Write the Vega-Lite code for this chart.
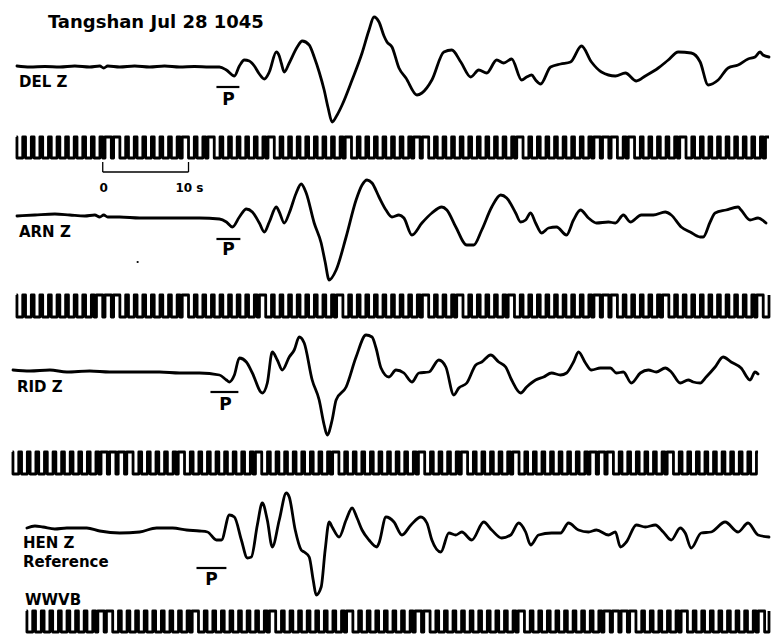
{"$schema":"https://vega.github.io/schema/vega-lite/v6.json","width":771,"height":635,"autosize":{"type":"fit","contains":"padding"},"padding":0,"background":"white","config":{"view":{"stroke":null}},
"datasets":{
"del":[{"x":17,"y":66},{"x":30,"y":67},{"x":45,"y":66.5},{"x":60,"y":67},{"x":75,"y":66},{"x":90,"y":67},{"x":100,"y":66},{"x":104,"y":68},{"x":108,"y":66},{"x":120,"y":67},{"x":135,"y":66},{"x":150,"y":67},{"x":165,"y":66},{"x":180,"y":67},{"x":195,"y":66.5},{"x":210,"y":67},{"x":220,"y":67},{"x":227,"y":70},{"x":235,"y":76},{"x":240,"y":66},{"x":245,"y":60},{"x":250,"y":61},{"x":255,"y":66},{"x":260,"y":74},{"x":265,"y":79},{"x":270,"y":72},{"x":277,"y":52},{"x":280,"y":56},{"x":282,"y":63},{"x":285,"y":72},{"x":290,"y":63},{"x":298,"y":47},{"x":303,"y":41},{"x":310,"y":45},{"x":315,"y":57},{"x":320,"y":72},{"x":325,"y":90},{"x":329,"y":108},{"x":333,"y":122},{"x":338,"y":115},{"x":343,"y":105},{"x":353,"y":80},{"x":363,"y":53},{"x":370,"y":30},{"x":375,"y":17},{"x":380,"y":22},{"x":385,"y":36},{"x":388,"y":42},{"x":393,"y":47},{"x":400,"y":68},{"x":407,"y":78},{"x":418,"y":95},{"x":423,"y":93},{"x":433,"y":80},{"x":445,"y":52},{"x":453,"y":50},{"x":462,"y":62},{"x":472,"y":77},{"x":480,"y":70},{"x":488,"y":73},{"x":498,"y":60},{"x":505,"y":63},{"x":513,"y":59},{"x":523,"y":80},{"x":528,"y":77},{"x":533,"y":75},{"x":537,"y":80},{"x":542,"y":84},{"x":552,"y":67},{"x":562,"y":64},{"x":572,"y":62},{"x":583,"y":46},{"x":593,"y":62},{"x":603,"y":72},{"x":617,"y":76},{"x":627,"y":73},{"x":638,"y":81},{"x":647,"y":76},{"x":660,"y":68},{"x":670,"y":60},{"x":680,"y":52},{"x":693,"y":53},{"x":702,"y":62},{"x":710,"y":85},{"x":720,"y":80},{"x":730,"y":68},{"x":740,"y":65},{"x":750,"y":59},{"x":757,"y":57},{"x":762,"y":52},{"x":765,"y":55},{"x":771,"y":57}],
"arn":[{"x":17,"y":216},{"x":35,"y":215},{"x":55,"y":214},{"x":70,"y":215},{"x":85,"y":216},{"x":95,"y":215},{"x":100,"y":217},{"x":104,"y":215},{"x":108,"y":217},{"x":120,"y":217},{"x":140,"y":218},{"x":160,"y":218},{"x":180,"y":218},{"x":200,"y":218},{"x":220,"y":219},{"x":227,"y":222},{"x":233,"y":227},{"x":240,"y":217},{"x":247,"y":209},{"x":253,"y":212},{"x":260,"y":223},{"x":265,"y":232},{"x":270,"y":222},{"x":277,"y":207},{"x":280,"y":212},{"x":285,"y":223},{"x":290,"y":213},{"x":297,"y":193},{"x":302,"y":184},{"x":307,"y":193},{"x":315,"y":223},{"x":322,"y":243},{"x":326,"y":262},{"x":330,"y":280},{"x":337,"y":270},{"x":347,"y":237},{"x":357,"y":200},{"x":363,"y":185},{"x":368,"y":180},{"x":373,"y":183},{"x":380,"y":197},{"x":387,"y":210},{"x":393,"y":217},{"x":400,"y":215},{"x":405,"y":218},{"x":413,"y":235},{"x":423,"y":223},{"x":433,"y":213},{"x":443,"y":207},{"x":448,"y":210},{"x":457,"y":227},{"x":468,"y":245},{"x":475,"y":245},{"x":483,"y":230},{"x":493,"y":207},{"x":502,"y":195},{"x":508,"y":198},{"x":517,"y":213},{"x":522,"y":222},{"x":527,"y":220},{"x":532,"y":213},{"x":537,"y":223},{"x":543,"y":233},{"x":550,"y":228},{"x":558,"y":227},{"x":568,"y":235},{"x":575,"y":220},{"x":582,"y":210},{"x":590,"y":218},{"x":598,"y":223},{"x":610,"y":222},{"x":617,"y":223},{"x":625,"y":215},{"x":632,"y":222},{"x":643,"y":215},{"x":655,"y":215},{"x":667,"y":212},{"x":673,"y":215},{"x":683,"y":227},{"x":692,"y":232},{"x":702,"y":237},{"x":705,"y":237},{"x":712,"y":222},{"x":717,"y":213},{"x":728,"y":210},{"x":740,"y":207},{"x":743,"y":210},{"x":752,"y":220},{"x":760,"y":218},{"x":768,"y":223}],
"rid":[{"x":13,"y":370},{"x":30,"y":371},{"x":50,"y":370},{"x":67,"y":372},{"x":90,"y":371},{"x":110,"y":372},{"x":133,"y":372},{"x":160,"y":372},{"x":180,"y":373},{"x":200,"y":373},{"x":220,"y":375},{"x":227,"y":380},{"x":230,"y":382},{"x":235,"y":375},{"x":240,"y":358},{"x":247,"y":362},{"x":253,"y":373},{"x":263,"y":393},{"x":268,"y":383},{"x":273,"y":352},{"x":278,"y":360},{"x":283,"y":370},{"x":290,"y":357},{"x":295,"y":350},{"x":300,"y":337},{"x":305,"y":343},{"x":313,"y":380},{"x":320,"y":400},{"x":325,"y":425},{"x":328,"y":435},{"x":333,"y":420},{"x":337,"y":400},{"x":347,"y":387},{"x":357,"y":357},{"x":367,"y":335},{"x":373,"y":337},{"x":377,"y":348},{"x":382,"y":368},{"x":390,"y":377},{"x":397,"y":370},{"x":405,"y":373},{"x":413,"y":382},{"x":420,"y":373},{"x":430,"y":372},{"x":440,"y":360},{"x":447,"y":367},{"x":455,"y":395},{"x":460,"y":388},{"x":468,"y":383},{"x":477,"y":365},{"x":483,"y":362},{"x":492,"y":355},{"x":500,"y":362},{"x":507,"y":367},{"x":513,"y":380},{"x":522,"y":393},{"x":528,"y":387},{"x":537,"y":380},{"x":545,"y":377},{"x":553,"y":373},{"x":562,"y":375},{"x":568,"y":373},{"x":575,"y":362},{"x":580,"y":352},{"x":587,"y":363},{"x":593,"y":370},{"x":602,"y":368},{"x":612,"y":368},{"x":618,"y":373},{"x":625,"y":372},{"x":633,"y":383},{"x":642,"y":373},{"x":650,"y":370},{"x":658,"y":372},{"x":667,"y":368},{"x":673,"y":372},{"x":682,"y":383},{"x":690,"y":380},{"x":695,"y":382},{"x":702,"y":383},{"x":708,"y":377},{"x":717,"y":367},{"x":725,"y":357},{"x":733,"y":362},{"x":743,"y":368},{"x":752,"y":380},{"x":757,"y":372},{"x":760,"y":374}],
"hen":[{"x":27,"y":528},{"x":35,"y":526},{"x":43,"y":527},{"x":55,"y":529},{"x":67,"y":528},{"x":87,"y":528},{"x":100,"y":531},{"x":120,"y":533},{"x":140,"y":532},{"x":157,"y":528},{"x":173,"y":528},{"x":187,"y":530},{"x":200,"y":531},{"x":208,"y":532},{"x":217,"y":540},{"x":222,"y":540},{"x":230,"y":515},{"x":235,"y":517},{"x":242,"y":540},{"x":248,"y":558},{"x":252,"y":557},{"x":258,"y":525},{"x":263,"y":503},{"x":268,"y":520},{"x":273,"y":547},{"x":280,"y":520},{"x":287,"y":493},{"x":290,"y":497},{"x":296,"y":530},{"x":302,"y":550},{"x":305,"y":552},{"x":310,"y":557},{"x":314,"y":580},{"x":317,"y":595},{"x":322,"y":587},{"x":326,"y":550},{"x":330,"y":522},{"x":333,"y":527},{"x":340,"y":537},{"x":347,"y":520},{"x":353,"y":508},{"x":358,"y":518},{"x":363,"y":530},{"x":370,"y":540},{"x":378,"y":547},{"x":380,"y":543},{"x":387,"y":517},{"x":395,"y":522},{"x":403,"y":535},{"x":412,"y":525},{"x":422,"y":517},{"x":428,"y":523},{"x":433,"y":540},{"x":442,"y":552},{"x":450,"y":533},{"x":457,"y":535},{"x":463,"y":532},{"x":473,"y":540},{"x":485,"y":522},{"x":493,"y":530},{"x":503,"y":538},{"x":512,"y":535},{"x":520,"y":523},{"x":527,"y":532},{"x":532,"y":545},{"x":540,"y":535},{"x":553,"y":533},{"x":562,"y":533},{"x":570,"y":523},{"x":580,"y":530},{"x":590,"y":532},{"x":598,"y":530},{"x":610,"y":535},{"x":617,"y":532},{"x":622,"y":547},{"x":628,"y":542},{"x":638,"y":525},{"x":647,"y":527},{"x":657,"y":525},{"x":665,"y":532},{"x":673,"y":540},{"x":682,"y":528},{"x":687,"y":533},{"x":693,"y":548},{"x":703,"y":533},{"x":713,"y":532},{"x":727,"y":522},{"x":740,"y":532},{"x":750,"y":523},{"x":760,"y":535},{"x":771,"y":537}],
"c1":[{"x":16.5,"y":137},{"x":17,"y":158},{"x":22.8,"y":137},{"x":25.6,"y":158},{"x":31.4,"y":137},{"x":34.2,"y":158},{"x":40,"y":137},{"x":42.8,"y":158},{"x":48.6,"y":137},{"x":51.4,"y":158},{"x":57.2,"y":137},{"x":60,"y":158},{"x":65.8,"y":137},{"x":68.6,"y":158},{"x":74.4,"y":137},{"x":77.2,"y":158},{"x":83,"y":137},{"x":85.8,"y":158},{"x":91.6,"y":137},{"x":94.4,"y":158},{"x":100.2,"y":137},{"x":103,"y":158},{"x":105.3,"y":137},{"x":111.6,"y":158},{"x":113.9,"y":137},{"x":120.2,"y":158},{"x":126,"y":137},{"x":128.8,"y":158},{"x":134.6,"y":137},{"x":137.4,"y":158},{"x":143.2,"y":137},{"x":146,"y":158},{"x":151.8,"y":137},{"x":154.6,"y":158},{"x":160.4,"y":137},{"x":163.2,"y":158},{"x":169,"y":137},{"x":171.8,"y":158},{"x":177.6,"y":137},{"x":180.4,"y":158},{"x":182.7,"y":137},{"x":189,"y":158},{"x":194.8,"y":137},{"x":197.6,"y":158},{"x":203.4,"y":137},{"x":206.2,"y":158},{"x":208.5,"y":137},{"x":214.8,"y":158},{"x":220.6,"y":137},{"x":223.4,"y":158},{"x":229.2,"y":137},{"x":232,"y":158},{"x":237.8,"y":137},{"x":240.6,"y":158},{"x":246.4,"y":137},{"x":249.2,"y":158},{"x":255,"y":137},{"x":257.8,"y":158},{"x":263.6,"y":137},{"x":266.4,"y":158},{"x":268.7,"y":137},{"x":275,"y":158},{"x":280.8,"y":137},{"x":283.6,"y":158},{"x":289.4,"y":137},{"x":292.2,"y":158},{"x":298,"y":137},{"x":300.8,"y":158},{"x":306.6,"y":137},{"x":309.4,"y":158},{"x":315.2,"y":137},{"x":318,"y":158},{"x":323.8,"y":137},{"x":326.6,"y":158},{"x":332.4,"y":137},{"x":335.2,"y":158},{"x":341,"y":137},{"x":343.8,"y":158},{"x":346.1,"y":137},{"x":352.4,"y":158},{"x":358.2,"y":137},{"x":361,"y":158},{"x":366.8,"y":137},{"x":369.6,"y":158},{"x":375.4,"y":137},{"x":378.2,"y":158},{"x":384,"y":137},{"x":386.8,"y":158},{"x":392.6,"y":137},{"x":395.4,"y":158},{"x":401.2,"y":137},{"x":404,"y":158},{"x":409.8,"y":137},{"x":412.6,"y":158},{"x":414.9,"y":137},{"x":421.2,"y":158},{"x":423.5,"y":137},{"x":429.8,"y":158},{"x":435.6,"y":137},{"x":438.4,"y":158},{"x":444.2,"y":137},{"x":447,"y":158},{"x":452.8,"y":137},{"x":455.6,"y":158},{"x":461.4,"y":137},{"x":464.2,"y":158},{"x":470,"y":137},{"x":472.8,"y":158},{"x":478.6,"y":137},{"x":481.4,"y":158},{"x":487.2,"y":137},{"x":490,"y":158},{"x":495.8,"y":137},{"x":498.6,"y":158},{"x":504.4,"y":137},{"x":507.2,"y":158},{"x":513,"y":137},{"x":515.8,"y":158},{"x":518.1,"y":137},{"x":524.4,"y":158},{"x":530.2,"y":137},{"x":533,"y":158},{"x":538.8,"y":137},{"x":541.6,"y":158},{"x":547.4,"y":137},{"x":550.2,"y":158},{"x":556,"y":137},{"x":558.8,"y":158},{"x":564.6,"y":137},{"x":567.4,"y":158},{"x":573.2,"y":137},{"x":576,"y":158},{"x":581.8,"y":137},{"x":584.6,"y":158},{"x":590.4,"y":137},{"x":593.2,"y":158},{"x":595.5,"y":137},{"x":601.8,"y":158},{"x":604.1,"y":137},{"x":610.4,"y":158},{"x":612.7,"y":137},{"x":619,"y":158},{"x":624.8,"y":137},{"x":627.6,"y":158},{"x":629.9,"y":137},{"x":636.2,"y":158},{"x":642,"y":137},{"x":644.8,"y":158},{"x":650.6,"y":137},{"x":653.4,"y":158},{"x":659.2,"y":137},{"x":662,"y":158},{"x":667.8,"y":137},{"x":670.6,"y":158},{"x":676.4,"y":137},{"x":679.2,"y":158},{"x":681.5,"y":137},{"x":687.8,"y":158},{"x":693.6,"y":137},{"x":696.4,"y":158},{"x":702.2,"y":137},{"x":705,"y":158},{"x":710.8,"y":137},{"x":713.6,"y":158},{"x":719.4,"y":137},{"x":722.2,"y":158},{"x":728,"y":137},{"x":730.8,"y":158},{"x":736.6,"y":137},{"x":739.4,"y":158},{"x":745.2,"y":137},{"x":748,"y":158},{"x":753.8,"y":137},{"x":756.6,"y":158},{"x":762.4,"y":137},{"x":765.2,"y":158},{"x":767.5,"y":137},{"x":771,"y":137}],
"c2":[{"x":16.5,"y":295},{"x":17,"y":317},{"x":22.8,"y":295},{"x":25.6,"y":317},{"x":31.4,"y":295},{"x":34.2,"y":317},{"x":40,"y":295},{"x":42.8,"y":317},{"x":48.6,"y":295},{"x":51.4,"y":317},{"x":57.2,"y":295},{"x":60,"y":317},{"x":65.8,"y":295},{"x":68.6,"y":317},{"x":74.4,"y":295},{"x":77.2,"y":317},{"x":83,"y":295},{"x":85.8,"y":317},{"x":91.6,"y":295},{"x":94.4,"y":317},{"x":96.7,"y":295},{"x":103,"y":317},{"x":105.3,"y":295},{"x":111.6,"y":317},{"x":113.9,"y":295},{"x":120.2,"y":317},{"x":126,"y":295},{"x":128.8,"y":317},{"x":134.6,"y":295},{"x":137.4,"y":317},{"x":143.2,"y":295},{"x":146,"y":317},{"x":151.8,"y":295},{"x":154.6,"y":317},{"x":160.4,"y":295},{"x":163.2,"y":317},{"x":169,"y":295},{"x":171.8,"y":317},{"x":177.6,"y":295},{"x":180.4,"y":317},{"x":182.7,"y":295},{"x":189,"y":317},{"x":194.8,"y":295},{"x":197.6,"y":317},{"x":203.4,"y":295},{"x":206.2,"y":317},{"x":212,"y":295},{"x":214.8,"y":317},{"x":220.6,"y":295},{"x":223.4,"y":317},{"x":229.2,"y":295},{"x":232,"y":317},{"x":237.8,"y":295},{"x":240.6,"y":317},{"x":246.4,"y":295},{"x":249.2,"y":317},{"x":255,"y":295},{"x":257.8,"y":317},{"x":260.1,"y":295},{"x":266.4,"y":317},{"x":272.2,"y":295},{"x":275,"y":317},{"x":280.8,"y":295},{"x":283.6,"y":317},{"x":289.4,"y":295},{"x":292.2,"y":317},{"x":298,"y":295},{"x":300.8,"y":317},{"x":306.6,"y":295},{"x":309.4,"y":317},{"x":315.2,"y":295},{"x":318,"y":317},{"x":323.8,"y":295},{"x":326.6,"y":317},{"x":332.4,"y":295},{"x":335.2,"y":317},{"x":337.5,"y":295},{"x":343.8,"y":317},{"x":349.6,"y":295},{"x":352.4,"y":317},{"x":358.2,"y":295},{"x":361,"y":317},{"x":366.8,"y":295},{"x":369.6,"y":317},{"x":375.4,"y":295},{"x":378.2,"y":317},{"x":384,"y":295},{"x":386.8,"y":317},{"x":392.6,"y":295},{"x":395.4,"y":317},{"x":401.2,"y":295},{"x":404,"y":317},{"x":409.8,"y":295},{"x":412.6,"y":317},{"x":418.4,"y":295},{"x":421.2,"y":317},{"x":423.5,"y":295},{"x":429.8,"y":317},{"x":435.6,"y":295},{"x":438.4,"y":317},{"x":444.2,"y":295},{"x":447,"y":317},{"x":452.8,"y":295},{"x":455.6,"y":317},{"x":457.9,"y":295},{"x":464.2,"y":317},{"x":470,"y":295},{"x":472.8,"y":317},{"x":478.6,"y":295},{"x":481.4,"y":317},{"x":487.2,"y":295},{"x":490,"y":317},{"x":495.8,"y":295},{"x":498.6,"y":317},{"x":504.4,"y":295},{"x":507.2,"y":317},{"x":509.5,"y":295},{"x":515.8,"y":317},{"x":521.6,"y":295},{"x":524.4,"y":317},{"x":530.2,"y":295},{"x":533,"y":317},{"x":538.8,"y":295},{"x":541.6,"y":317},{"x":547.4,"y":295},{"x":550.2,"y":317},{"x":556,"y":295},{"x":558.8,"y":317},{"x":564.6,"y":295},{"x":567.4,"y":317},{"x":573.2,"y":295},{"x":576,"y":317},{"x":581.8,"y":295},{"x":584.6,"y":317},{"x":590.4,"y":295},{"x":593.2,"y":317},{"x":595.5,"y":295},{"x":601.8,"y":317},{"x":604.1,"y":295},{"x":610.4,"y":317},{"x":612.7,"y":295},{"x":619,"y":317},{"x":624.8,"y":295},{"x":627.6,"y":317},{"x":633.4,"y":295},{"x":636.2,"y":317},{"x":642,"y":295},{"x":644.8,"y":317},{"x":650.6,"y":295},{"x":653.4,"y":317},{"x":659.2,"y":295},{"x":662,"y":317},{"x":664.3,"y":295},{"x":670.6,"y":317},{"x":676.4,"y":295},{"x":679.2,"y":317},{"x":685,"y":295},{"x":687.8,"y":317},{"x":693.6,"y":295},{"x":696.4,"y":317},{"x":702.2,"y":295},{"x":705,"y":317},{"x":710.8,"y":295},{"x":713.6,"y":317},{"x":719.4,"y":295},{"x":722.2,"y":317},{"x":728,"y":295},{"x":730.8,"y":317},{"x":736.6,"y":295},{"x":739.4,"y":317},{"x":745.2,"y":295},{"x":748,"y":317},{"x":753.8,"y":295},{"x":756.6,"y":317},{"x":758.9,"y":295},{"x":765.2,"y":317},{"x":771,"y":295}],
"c3":[{"x":12.5,"y":452},{"x":13,"y":474},{"x":18.8,"y":452},{"x":21.6,"y":474},{"x":27.4,"y":452},{"x":30.2,"y":474},{"x":36,"y":452},{"x":38.8,"y":474},{"x":44.6,"y":452},{"x":47.4,"y":474},{"x":53.2,"y":452},{"x":56,"y":474},{"x":61.8,"y":452},{"x":64.6,"y":474},{"x":70.4,"y":452},{"x":73.2,"y":474},{"x":79,"y":452},{"x":81.8,"y":474},{"x":87.6,"y":452},{"x":90.4,"y":474},{"x":96.2,"y":452},{"x":99,"y":474},{"x":101.3,"y":452},{"x":107.6,"y":474},{"x":109.9,"y":452},{"x":116.2,"y":474},{"x":118.5,"y":452},{"x":124.8,"y":474},{"x":127.1,"y":452},{"x":133.4,"y":474},{"x":139.2,"y":452},{"x":142,"y":474},{"x":147.8,"y":452},{"x":150.6,"y":474},{"x":156.4,"y":452},{"x":159.2,"y":474},{"x":165,"y":452},{"x":167.8,"y":474},{"x":173.6,"y":452},{"x":176.4,"y":474},{"x":178.7,"y":452},{"x":185,"y":474},{"x":190.8,"y":452},{"x":193.6,"y":474},{"x":199.4,"y":452},{"x":202.2,"y":474},{"x":208,"y":452},{"x":210.8,"y":474},{"x":216.6,"y":452},{"x":219.4,"y":474},{"x":225.2,"y":452},{"x":228,"y":474},{"x":233.8,"y":452},{"x":236.6,"y":474},{"x":242.4,"y":452},{"x":245.2,"y":474},{"x":251,"y":452},{"x":253.8,"y":474},{"x":256.1,"y":452},{"x":262.4,"y":474},{"x":268.2,"y":452},{"x":271,"y":474},{"x":276.8,"y":452},{"x":279.6,"y":474},{"x":285.4,"y":452},{"x":288.2,"y":474},{"x":294,"y":452},{"x":296.8,"y":474},{"x":302.6,"y":452},{"x":305.4,"y":474},{"x":311.2,"y":452},{"x":314,"y":474},{"x":319.8,"y":452},{"x":322.6,"y":474},{"x":328.4,"y":452},{"x":331.2,"y":474},{"x":333.5,"y":452},{"x":339.8,"y":474},{"x":345.6,"y":452},{"x":348.4,"y":474},{"x":354.2,"y":452},{"x":357,"y":474},{"x":362.8,"y":452},{"x":365.6,"y":474},{"x":371.4,"y":452},{"x":374.2,"y":474},{"x":380,"y":452},{"x":382.8,"y":474},{"x":388.6,"y":452},{"x":391.4,"y":474},{"x":397.2,"y":452},{"x":400,"y":474},{"x":405.8,"y":452},{"x":408.6,"y":474},{"x":414.4,"y":452},{"x":417.2,"y":474},{"x":419.5,"y":452},{"x":425.8,"y":474},{"x":431.6,"y":452},{"x":434.4,"y":474},{"x":440.2,"y":452},{"x":443,"y":474},{"x":448.8,"y":452},{"x":451.6,"y":474},{"x":457.4,"y":452},{"x":460.2,"y":474},{"x":462.5,"y":452},{"x":468.8,"y":474},{"x":474.6,"y":452},{"x":477.4,"y":474},{"x":483.2,"y":452},{"x":486,"y":474},{"x":491.8,"y":452},{"x":494.6,"y":474},{"x":500.4,"y":452},{"x":503.2,"y":474},{"x":509,"y":452},{"x":511.8,"y":474},{"x":514.1,"y":452},{"x":520.4,"y":474},{"x":526.2,"y":452},{"x":529,"y":474},{"x":534.8,"y":452},{"x":537.6,"y":474},{"x":543.4,"y":452},{"x":546.2,"y":474},{"x":552,"y":452},{"x":554.8,"y":474},{"x":560.6,"y":452},{"x":563.4,"y":474},{"x":569.2,"y":452},{"x":572,"y":474},{"x":577.8,"y":452},{"x":580.6,"y":474},{"x":586.4,"y":452},{"x":589.2,"y":474},{"x":591.5,"y":452},{"x":597.8,"y":474},{"x":600.1,"y":452},{"x":606.4,"y":474},{"x":608.7,"y":452},{"x":615,"y":474},{"x":620.8,"y":452},{"x":623.6,"y":474},{"x":629.4,"y":452},{"x":632.2,"y":474},{"x":638,"y":452},{"x":640.8,"y":474},{"x":646.6,"y":452},{"x":649.4,"y":474},{"x":655.2,"y":452},{"x":658,"y":474},{"x":663.8,"y":452},{"x":666.6,"y":474},{"x":668.9,"y":452},{"x":675.2,"y":474},{"x":681,"y":452},{"x":683.8,"y":474},{"x":689.6,"y":452},{"x":692.4,"y":474},{"x":698.2,"y":452},{"x":701,"y":474},{"x":706.8,"y":452},{"x":709.6,"y":474},{"x":715.4,"y":452},{"x":718.2,"y":474},{"x":724,"y":452},{"x":726.8,"y":474},{"x":732.6,"y":452},{"x":735.4,"y":474},{"x":741.2,"y":452},{"x":744,"y":474},{"x":749.8,"y":452},{"x":752.6,"y":474},{"x":758.4,"y":452},{"x":760,"y":452}],
"c4":[{"x":26.5,"y":611},{"x":27,"y":632},{"x":32.8,"y":611},{"x":35.6,"y":632},{"x":41.4,"y":611},{"x":44.2,"y":632},{"x":50,"y":611},{"x":52.8,"y":632},{"x":58.6,"y":611},{"x":61.4,"y":632},{"x":67.2,"y":611},{"x":70,"y":632},{"x":75.8,"y":611},{"x":78.6,"y":632},{"x":84.4,"y":611},{"x":87.2,"y":632},{"x":93,"y":611},{"x":95.8,"y":632},{"x":98.1,"y":611},{"x":104.4,"y":632},{"x":106.7,"y":611},{"x":113,"y":632},{"x":118.8,"y":611},{"x":121.6,"y":632},{"x":127.4,"y":611},{"x":130.2,"y":632},{"x":136,"y":611},{"x":138.8,"y":632},{"x":144.6,"y":611},{"x":147.4,"y":632},{"x":153.2,"y":611},{"x":156,"y":632},{"x":161.8,"y":611},{"x":164.6,"y":632},{"x":170.4,"y":611},{"x":173.2,"y":632},{"x":179,"y":611},{"x":181.8,"y":632},{"x":187.6,"y":611},{"x":190.4,"y":632},{"x":192.7,"y":611},{"x":199,"y":632},{"x":204.8,"y":611},{"x":207.6,"y":632},{"x":213.4,"y":611},{"x":216.2,"y":632},{"x":222,"y":611},{"x":224.8,"y":632},{"x":230.6,"y":611},{"x":233.4,"y":632},{"x":239.2,"y":611},{"x":242,"y":632},{"x":247.8,"y":611},{"x":250.6,"y":632},{"x":256.4,"y":611},{"x":259.2,"y":632},{"x":265,"y":611},{"x":267.8,"y":632},{"x":270.1,"y":611},{"x":276.4,"y":632},{"x":282.2,"y":611},{"x":285,"y":632},{"x":290.8,"y":611},{"x":293.6,"y":632},{"x":299.4,"y":611},{"x":302.2,"y":632},{"x":308,"y":611},{"x":310.8,"y":632},{"x":316.6,"y":611},{"x":319.4,"y":632},{"x":325.2,"y":611},{"x":328,"y":632},{"x":333.8,"y":611},{"x":336.6,"y":632},{"x":342.4,"y":611},{"x":345.2,"y":632},{"x":347.5,"y":611},{"x":353.8,"y":632},{"x":359.6,"y":611},{"x":362.4,"y":632},{"x":368.2,"y":611},{"x":371,"y":632},{"x":376.8,"y":611},{"x":379.6,"y":632},{"x":385.4,"y":611},{"x":388.2,"y":632},{"x":394,"y":611},{"x":396.8,"y":632},{"x":402.6,"y":611},{"x":405.4,"y":632},{"x":411.2,"y":611},{"x":414,"y":632},{"x":416.3,"y":611},{"x":422.6,"y":632},{"x":424.9,"y":611},{"x":431.2,"y":632},{"x":437,"y":611},{"x":439.8,"y":632},{"x":445.6,"y":611},{"x":448.4,"y":632},{"x":454.2,"y":611},{"x":457,"y":632},{"x":462.8,"y":611},{"x":465.6,"y":632},{"x":471.4,"y":611},{"x":474.2,"y":632},{"x":480,"y":611},{"x":482.8,"y":632},{"x":488.6,"y":611},{"x":491.4,"y":632},{"x":497.2,"y":611},{"x":500,"y":632},{"x":505.8,"y":611},{"x":508.6,"y":632},{"x":514.4,"y":611},{"x":517.2,"y":632},{"x":519.5,"y":611},{"x":525.8,"y":632},{"x":531.6,"y":611},{"x":534.4,"y":632},{"x":540.2,"y":611},{"x":543,"y":632},{"x":548.8,"y":611},{"x":551.6,"y":632},{"x":557.4,"y":611},{"x":560.2,"y":632},{"x":566,"y":611},{"x":568.8,"y":632},{"x":574.6,"y":611},{"x":577.4,"y":632},{"x":583.2,"y":611},{"x":586,"y":632},{"x":591.8,"y":611},{"x":594.6,"y":632},{"x":600.4,"y":611},{"x":603.2,"y":632},{"x":605.5,"y":611},{"x":611.8,"y":632},{"x":614.1,"y":611},{"x":620.4,"y":632},{"x":622.7,"y":611},{"x":629,"y":632},{"x":631.3,"y":611},{"x":637.6,"y":632},{"x":643.4,"y":611},{"x":646.2,"y":632},{"x":652,"y":611},{"x":654.8,"y":632},{"x":660.6,"y":611},{"x":663.4,"y":632},{"x":669.2,"y":611},{"x":672,"y":632},{"x":677.8,"y":611},{"x":680.6,"y":632},{"x":682.9,"y":611},{"x":689.2,"y":632},{"x":695,"y":611},{"x":697.8,"y":632},{"x":703.6,"y":611},{"x":706.4,"y":632},{"x":712.2,"y":611},{"x":715,"y":632},{"x":720.8,"y":611},{"x":723.6,"y":632},{"x":729.4,"y":611},{"x":732.2,"y":632},{"x":738,"y":611},{"x":740.8,"y":632},{"x":746.6,"y":611},{"x":749.4,"y":632},{"x":755.2,"y":611},{"x":758,"y":632},{"x":760.3,"y":611},{"x":766.6,"y":632},{"x":771,"y":611}],
"title":[{"x":48,"y":28,"t":"Tangshan Jul 28 1045"}],
"lab":[{"x":19,"y":87,"t":"DEL Z"},{"x":19,"y":237,"t":"ARN Z"},{"x":17,"y":392,"t":"RID Z"},{"x":23,"y":548,"t":"HEN Z"},{"x":23,"y":567,"t":"Reference"},{"x":25,"y":605,"t":"WWVB"}],
"pl":[{"x":229,"y":105,"t":"P"},{"x":229,"y":255,"t":"P"},{"x":226,"y":410,"t":"P"},{"x":212,"y":585,"t":"P"}],
"ov":[{"x":217,"y":87,"x2":240,"y2":87},{"x":217,"y":239,"x2":241,"y2":239},{"x":211,"y":392,"x2":239,"y2":392},{"x":197,"y":568,"x2":227,"y2":568}],
"bar":[{"x":103,"y":172,"x2":189,"y2":172},{"x":103,"y":162,"x2":103,"y2":172},{"x":189,"y":162,"x2":189,"y2":172}],
"sc":[{"x":104,"y":192,"t":"0"},{"x":190,"y":192,"t":"10 s"}],
"dot":[{"x":138,"y":262}]
},
"encoding":{"x":{"field":"x","type":"quantitative","scale":{"domain":[0,771],"nice":false,"zero":false},"axis":null},"y":{"field":"y","type":"quantitative","scale":{"domain":[0,635],"reverse":true,"nice":false,"zero":false},"axis":null}},
"layer":[
{"data":{"name":"del"},"mark":{"type":"line","color":"#000","strokeWidth":2.8,"interpolate":"monotone","strokeJoin":"round","strokeCap":"round"}},
{"data":{"name":"arn"},"mark":{"type":"line","color":"#000","strokeWidth":2.8,"interpolate":"monotone","strokeJoin":"round","strokeCap":"round"}},
{"data":{"name":"rid"},"mark":{"type":"line","color":"#000","strokeWidth":2.8,"interpolate":"monotone","strokeJoin":"round","strokeCap":"round"}},
{"data":{"name":"hen"},"mark":{"type":"line","color":"#000","strokeWidth":2.8,"interpolate":"monotone","strokeJoin":"round","strokeCap":"round"}},
{"data":{"name":"c1"},"mark":{"type":"line","color":"#000","strokeWidth":2.8,"interpolate":"step-after","strokeJoin":"round"}},
{"data":{"name":"c2"},"mark":{"type":"line","color":"#000","strokeWidth":2.8,"interpolate":"step-after","strokeJoin":"round"}},
{"data":{"name":"c3"},"mark":{"type":"line","color":"#000","strokeWidth":2.8,"interpolate":"step-after","strokeJoin":"round"}},
{"data":{"name":"c4"},"mark":{"type":"line","color":"#000","strokeWidth":2.8,"interpolate":"step-after","strokeJoin":"round"}},
{"data":{"name":"ov"},"mark":{"type":"rule","color":"#000","strokeWidth":2.2},"encoding":{"x2":{"field":"x2"},"y2":{"field":"y2"}}},
{"data":{"name":"bar"},"mark":{"type":"rule","color":"#000","strokeWidth":1.3},"encoding":{"x2":{"field":"x2"},"y2":{"field":"y2"}}},
{"data":{"name":"dot"},"mark":{"type":"circle","color":"#000","size":5,"opacity":1}},
{"data":{"name":"title"},"mark":{"type":"text","font":"DejaVu Sans","fontWeight":"bold","fontSize":18,"align":"left","baseline":"alphabetic","color":"#000"},"encoding":{"text":{"field":"t"}}},
{"data":{"name":"lab"},"mark":{"type":"text","font":"DejaVu Sans","fontWeight":"bold","fontSize":15,"align":"left","baseline":"alphabetic","color":"#000"},"encoding":{"text":{"field":"t"}}},
{"data":{"name":"pl"},"mark":{"type":"text","font":"DejaVu Sans","fontWeight":"bold","fontSize":17,"align":"center","baseline":"alphabetic","color":"#000"},"encoding":{"text":{"field":"t"}}},
{"data":{"name":"sc"},"mark":{"type":"text","font":"DejaVu Sans","fontWeight":"bold","fontSize":12,"align":"center","baseline":"alphabetic","color":"#000"},"encoding":{"text":{"field":"t"}}}
]}
